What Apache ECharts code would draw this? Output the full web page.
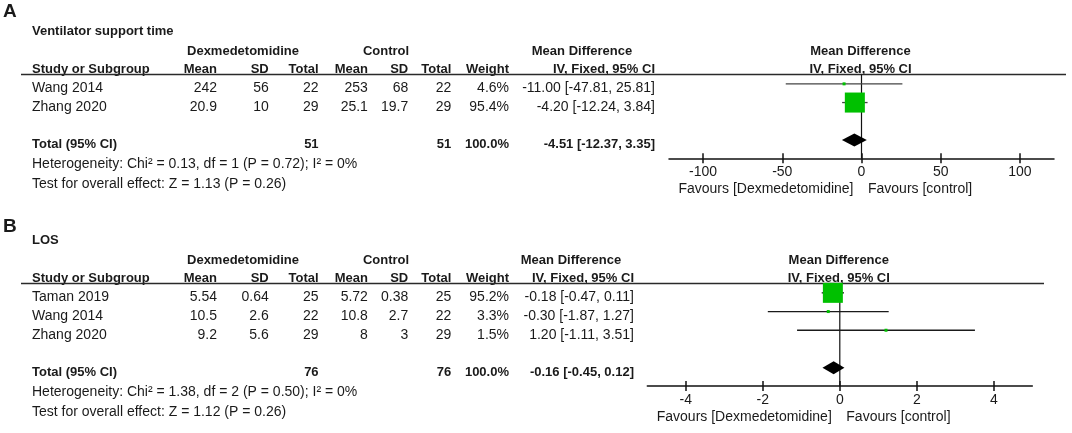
<!DOCTYPE html>
<html>
<head>
<meta charset="utf-8">
<script src="https://cdn.jsdelivr.net/npm/echarts@6/dist/echarts.min.js"></script>
<style>
	html, body { margin: 0; padding: 0; background: #fff; }
	#chart { width: 1072px; height: 433px; }
</style>
</head>
<body>
<div id="chart"></div>
<script>
// ---- panel A: ventilator support time ----
const studiesA = ['Wang 2014', 'Zhang 2020'];
const dexMeanA = [242, 20.9];
const dexSdA = [56, 10];
const dexTotalA = [22, 29];
const ctrlMeanA = [253, 25.1];
const ctrlSdA = [68, 19.7];
const ctrlTotalA = [22, 29];
const weightA = [4.6, 95.4];
const mdA = [-11.00, -4.20];
const loA = [-47.81, -12.24];
const hiA = [25.81, 3.84];
const pooledA = [-4.51, -12.37, 3.35]; // md, lo, hi
const sumTotalsA = [51, 51];
const hetA = 'Heterogeneity: Chi² = 0.13, df = 1 (P = 0.72); I² = 0%';
const effectA = 'Test for overall effect: Z = 1.13 (P = 0.26)';
const ticksA = [-100, -50, 0, 50, 100];
const rangeA = [-121.5, 121.5];

// ---- panel B: LOS ----
const studiesB = ['Taman 2019', 'Wang 2014', 'Zhang 2020'];
const dexMeanB = [5.54, 10.5, 9.2];
const dexSdB = [0.64, 2.6, 5.6];
const dexTotalB = [25, 22, 29];
const ctrlMeanB = [5.72, 10.8, 8];
const ctrlSdB = [0.38, 2.7, 3];
const ctrlTotalB = [25, 22, 29];
const weightB = [95.2, 3.3, 1.5];
const mdB = [-0.18, -0.30, 1.20];
const loB = [-0.47, -1.87, -1.11];
const hiB = [0.11, 1.27, 3.51];
const pooledB = [-0.16, -0.45, 0.12];
const sumTotalsB = [76, 76];
const hetB = 'Heterogeneity: Chi² = 1.38, df = 2 (P = 0.50); I² = 0%';
const effectB = 'Test for overall effect: Z = 1.12 (P = 0.26)';
const ticksB = [-4, -2, 0, 2, 4];
const rangeB = [-5, 5];

const FONT = '"Liberation Sans", Arial, sans-serif';
const INK = '#1a1a1a';
const GREEN = '#00c000';
// right edges of the table columns: Mean SD Total Mean SD Total Weight
const cols = [217, 268.7, 318.6, 367.9, 408.2, 451.3, 509];

const panels = [
	{
		letter: 'A', title: 'Ventilator support time',
		studies: studiesA, dexMean: dexMeanA, dexSd: dexSdA, dexTotal: dexTotalA,
		ctrlMean: ctrlMeanA, ctrlSd: ctrlSdA, ctrlTotal: ctrlTotalA,
		weight: weightA, md: mdA, lo: loA, hi: hiA, pooled: pooledA, sums: sumTotalsA,
		het: hetA, effect: effectA, ticks: ticksA, range: rangeA,
		// layout
		top: 74.5, rowH: 18.7, left: 669, right: 1054, offset: 9,
		lineEnd: 1066, mdRight: 655, mdHeadX: 582, letterDy: -62.5, ciColor: '#444'
	},
	{
		letter: 'B', title: 'LOS',
		studies: studiesB, dexMean: dexMeanB, dexSd: dexSdB, dexTotal: dexTotalB,
		ctrlMean: ctrlMeanB, ctrlSd: ctrlSdB, ctrlTotal: ctrlTotalB,
		weight: weightB, md: mdB, lo: loB, hi: hiB, pooled: pooledB, sums: sumTotalsB,
		het: hetB, effect: effectB, ticks: ticksB, range: rangeB,
		top: 283.5, rowH: 18.7, left: 647.3, right: 1032.3, offset: 9,
		lineEnd: 1044, mdRight: 634, mdHeadX: 571, letterDy: -56.5, ciColor: '#1a1a1a'
	}
];

const graphic = [];
const grids = [];
const xAxes = [];
const yAxes = [];
const series = [];

function text(s, x, y, align, bold, size) {
	graphic.push({
		type: 'text', x: x, y: y, silent: true,
		style: {
			text: s, align: align, verticalAlign: 'middle', fill: INK,
			font: (bold ? 'bold ' : '') + (size || (bold ? 13 : 14)) + 'px ' + FONT
		}
	});
}

const fmt = (v) => v.toFixed(2);

panels.forEach((p, gi) => {
	const n = p.studies.length;
	const rows = p.studies.concat(['', 'Total (95% CI)']);
	const U = p.top;
	const height = rows.length * p.rowH;
	const axisY = U + height + p.offset;
	const textY = (i) => U + (i + 0.5) * p.rowH + 4.5;
	const plotMid = (p.left + p.right) / 2;
	const zeroX = p.left + (0 - p.range[0]) / (p.range[1] - p.range[0]) * (p.right - p.left);

	// headings
	text(p.letter, 3, U + p.letterDy, 'left', true, 19);
	text(p.title, 32, U - 42.6, 'left', true, 13);
	text('Dexmedetomidine', 243, U - 23.3, 'center', true);
	text('Control', 386, U - 23.3, 'center', true);
	text('Mean Difference', p.mdHeadX, U - 23.3, 'center', true);
	text('Mean Difference', plotMid - 1, U - 23.3, 'center', true);
	text('Study or Subgroup', 32, U - 5.3, 'left', true);
	['Mean', 'SD', 'Total', 'Mean', 'SD', 'Total', 'Weight'].forEach((h, k) => {
		text(h, cols[k], U - 5.3, 'right', true);
	});
	text('IV, Fixed, 95% CI', p.mdRight, U - 5.3, 'right', true);
	text('IV, Fixed, 95% CI', plotMid - 1, U - 5.3, 'center', true);

	graphic.push({
		type: 'line', silent: true,
		shape: { x1: 21, y1: U, x2: p.lineEnd, y2: U },
		style: { stroke: '#2a2a2a', lineWidth: 1.5 }
	});

	// study rows
	for (let i = 0; i < n; i++) {
		const y = textY(i);
		text(p.studies[i], 32, y, 'left', false);
		const vals = [p.dexMean[i], p.dexSd[i], p.dexTotal[i], p.ctrlMean[i], p.ctrlSd[i], p.ctrlTotal[i]];
		vals.forEach((v, k) => text(String(v), cols[k], y, 'right', false));
		text(p.weight[i].toFixed(1) + '%', cols[6], y, 'right', false);
		text(fmt(p.md[i]) + ' [' + fmt(p.lo[i]) + ', ' + fmt(p.hi[i]) + ']', p.mdRight, y, 'right', false);
	}

	// total row
	const ty = textY(n + 1);
	text('Total (95% CI)', 32, ty, 'left', true);
	text(String(p.sums[0]), cols[2], ty, 'right', true);
	text(String(p.sums[1]), cols[5], ty, 'right', true);
	text('100.0%', cols[6], ty, 'right', true);
	text(fmt(p.pooled[0]) + ' [' + fmt(p.pooled[1]) + ', ' + fmt(p.pooled[2]) + ']', p.mdRight, ty, 'right', true);
	text(p.het, 32, ty + 20, 'left', false);
	text(p.effect, 32, ty + 39.5, 'left', false);

	// favours labels under the axis
	text('Favours [Dexmedetomidine]', zeroX - 8, axisY + 31, 'right', false);
	text('Favours [control]', zeroX + 6.5, axisY + 31, 'left', false);

	// plot area
	grids.push({ left: p.left, top: U, width: p.right - p.left, height: height });
	yAxes.push({
		type: 'category', gridIndex: gi, data: rows, inverse: true, show: false
	});
	const baseX = {
		type: 'value', gridIndex: gi, position: 'bottom', offset: p.offset,
		min: p.range[0], max: p.range[1], splitLine: { show: false }
	};
	xAxes.push(Object.assign({}, baseX, {
		axisLine: { show: true, lineStyle: { color: '#111', width: 1.5 } },
		axisTick: { show: true, inside: false, length: 5, customValues: p.ticks, lineStyle: { color: '#111', width: 1.5 } },
		axisLabel: { show: true, customValues: p.ticks, margin: 7, color: INK, fontSize: 14, fontFamily: FONT }
	}));
	xAxes.push(Object.assign({}, baseX, {
		axisLine: { show: false },
		axisTick: { show: true, inside: true, length: 5, customValues: p.ticks, lineStyle: { color: '#111', width: 1.5 } },
		axisLabel: { show: false }
	}));
	const xi = gi * 2;

	// line of no effect
	series.push({
		type: 'custom', xAxisIndex: xi, yAxisIndex: gi, silent: true, z: 1,
		data: [[0, 0]],
		renderItem: (params, api) => {
			const cs = params.coordSys;
			const x = api.coord([0, 0])[0];
			return {
				type: 'line',
				shape: { x1: x, y1: cs.y, x2: x, y2: cs.y + cs.height + p.offset },
				style: { stroke: '#111', lineWidth: 1.2 }
			};
		}
	});

	// confidence intervals
	series.push({
		type: 'custom', xAxisIndex: xi, yAxisIndex: gi, silent: true, z: 2,
		encode: { x: [0, 1], y: 2 },
		data: p.studies.map((s, i) => [p.lo[i], p.hi[i], i]),
		renderItem: (params, api) => {
			const a = api.coord([api.value(0), api.value(2)]);
			const b = api.coord([api.value(1), api.value(2)]);
			return {
				type: 'line',
				shape: { x1: a[0], y1: a[1], x2: b[0], y2: b[1] },
				style: { stroke: p.ciColor, lineWidth: 1.3 }
			};
		}
	});

	// study estimates, square size by weight
	series.push({
		type: 'scatter', xAxisIndex: xi, yAxisIndex: gi, silent: true, z: 3,
		symbol: 'rect',
		symbolSize: (v) => Math.max(3, v[2] * 0.21),
		itemStyle: { color: GREEN, opacity: 1 },
		data: p.studies.map((s, i) => [p.md[i], i, p.weight[i]])
	});

	// pooled diamond
	series.push({
		type: 'custom', xAxisIndex: xi, yAxisIndex: gi, silent: true, z: 4,
		encode: { x: [0, 1, 2], y: 3 },
		data: [[p.pooled[1], p.pooled[0], p.pooled[2], n + 1]],
		renderItem: (params, api) => {
			const row = api.value(3);
			const l = api.coord([api.value(0), row]);
			const m = api.coord([api.value(1), row]);
			const r = api.coord([api.value(2), row]);
			const h = 6.5;
			return {
				type: 'polygon',
				shape: { points: [[l[0], l[1]], [m[0], m[1] - h], [r[0], r[1]], [m[0], m[1] + h]] },
				style: { fill: '#000' }
			};
		}
	});
});

const chart = echarts.init(document.getElementById('chart'), null, { renderer: 'canvas' });
chart.setOption({
	backgroundColor: '#fff',
	animation: false,
	grid: grids,
	xAxis: xAxes,
	yAxis: yAxes,
	series: series,
	graphic: graphic
});
window.addEventListener('resize', () => chart.resize());
</script>
</body>
</html>
